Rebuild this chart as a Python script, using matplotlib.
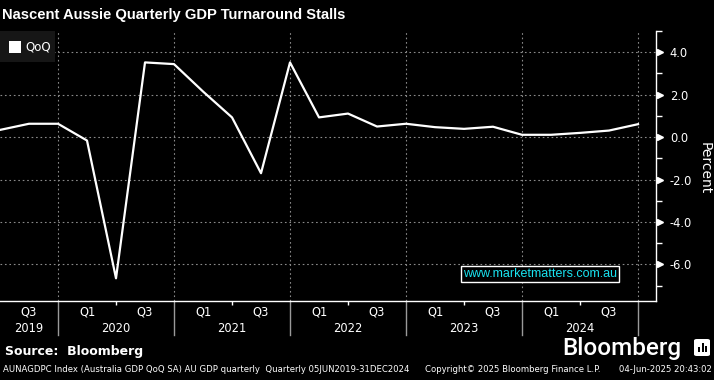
import matplotlib
matplotlib.use("Agg")
import matplotlib.pyplot as plt
import matplotlib.transforms as mtransforms
from matplotlib.patches import Rectangle, FancyBboxPatch
import numpy as np

# ---- data ----
quarters = ["2019Q2", "2019Q3", "2019Q4", "2020Q1", "2020Q2", "2020Q3", "2020Q4",
            "2021Q1", "2021Q2", "2021Q3", "2021Q4", "2022Q1", "2022Q2", "2022Q3",
            "2022Q4", "2023Q1", "2023Q2", "2023Q3", "2023Q4", "2024Q1", "2024Q2",
            "2024Q3", "2024Q4"]
qoq = [0.34, 0.63, 0.63, -0.16, -6.65, 3.52, 3.44,
       2.15, 0.93, -1.70, 3.52, 0.93, 1.11, 0.50,
       0.63, 0.47, 0.39, 0.49, 0.11, 0.11, 0.20,
       0.31, 0.61]
half_labels = ["Q3", "Q1", "Q3", "Q1", "Q3", "Q1", "Q3", "Q1", "Q3", "Q1", "Q3"]
year_labels = ["2019", "2020", "2021", "2022", "2023", "2024"]
y_ticks = [-6.0, -4.0, -2.0, 0.0, 2.0, 4.0]

BG = "black"
GRID = "#8a8a8a"

fig = plt.figure(figsize=(7.14, 3.80), dpi=100, facecolor=BG)
ax = fig.add_axes([0.0, 1 - 301 / 380, 656 / 714, 270 / 380])
ax.set_facecolor(BG)

x = np.arange(len(quarters))
ax.plot(x, qoq, color="white", lw=1.6, solid_joinstyle="round", zorder=3)

ax.set_xlim(0, 22.62)
ax.set_ylim(-7.72, 5.0)

# grid lines
for yv in y_ticks:
    ax.axhline(yv, color=GRID, lw=0.8, ls=(0, (1.5, 2.5)), zorder=1)
year_bounds = [q for q in range(len(quarters)) if quarters[q].endswith("Q4")]
for xb in year_bounds:
    ax.axvline(xb, color=GRID, lw=0.8, ls=(0, (1.5, 2.5)), zorder=1)

# spines
for s in ["top", "left"]:
    ax.spines[s].set_visible(False)
for s in ["right", "bottom"]:
    ax.spines[s].set_color("white")
    ax.spines[s].set_linewidth(1.0)

# x ticks: half-year small ticks
mid_year = [q for q in range(len(quarters)) if quarters[q].endswith("Q2")][1:]
ax.set_xticks(mid_year)
ax.set_xticklabels([])
ax.tick_params(axis="x", colors="white", length=3, width=1, direction="out")

xt = ax.get_xaxis_transform()
# separators below axis
for xb in year_bounds:
    ax.plot([xb, xb], [0, -34 / 270], transform=xt, color="#9a9a9a", lw=1.0, clip_on=False)
# half-year labels (centered in each half year)
half_pos = [1 + 2 * i for i in range(len(half_labels))]
for xp, lab in zip(half_pos, half_labels):
    ax.text(xp, -11 / 270, lab, transform=xt, ha="center", va="center",
            color="white", fontsize=8.3, family="DejaVu Sans")
year_pos = [1] + [4 + 4 * i for i in range(len(year_labels) - 1)]
for xp, lab in zip(year_pos, year_labels):
    ax.text(xp, -27 / 270, lab, transform=xt, ha="center", va="center",
            color="white", fontsize=8.3, family="DejaVu Sans")

# y axis on right
ax.yaxis.tick_right()
ax.set_yticks(y_ticks)
ax.set_yticklabels([f"{v:.1f}" for v in y_ticks])
ax.set_yticks(np.arange(-7, 6, 2), minor=True)
ax.tick_params(axis="y", which="major", length=0, pad=10, colors="white", labelsize=8.3)
ax.tick_params(axis="y", which="minor", length=4, width=1, colors="white", direction="out")
yt = ax.get_yaxis_transform()
tri = mtransforms.offset_copy(yt, fig=fig, x=4, y=0, units="dots")
ax.plot([1] * len(y_ticks), y_ticks, transform=tri, ls="none", marker=">",
        ms=5, color="white", clip_on=False)
fig.text(705 / 714, 1 - 168 / 380, "Percent", rotation=270, ha="center", va="center",
         color="white", fontsize=10, family="DejaVu Sans")

# legend box
ax.add_patch(Rectangle((0, 1 - 31 / 270), 55 / 656, 31 / 270, transform=ax.transAxes,
                       facecolor="#161616", edgecolor="none", zorder=4))
fig.add_artist(Rectangle((9 / 714, 1 - 53 / 380), 12 / 714, 12 / 380, transform=fig.transFigure,
                         facecolor="white", edgecolor="none", zorder=5))
fig.text(25 / 714, 1 - 47 / 380, "QoQ", ha="left", va="center", color="white",
         fontsize=8.5, family="DejaVu Sans", zorder=6)

# watermark
fig.text(540 / 714, 1 - 274 / 380, "www.marketmatters.com.au", ha="center", va="center",
         color="#19e3f0", fontsize=9, family="Liberation Sans",
         bbox=dict(boxstyle="square,pad=0.15", facecolor="black", edgecolor="white", lw=1.0),
         zorder=7)

# title
fig.text(2 / 714, 1 - 15 / 380, "Nascent Aussie Quarterly GDP Turnaround Stalls",
         ha="left", va="center", color="white", fontsize=10.6, fontweight="bold",
         family="Liberation Sans")

# footer
fig.text(5 / 714, 1 - 352 / 380, "Source:  Bloomberg", ha="left", va="center",
         color="white", fontsize=9, fontweight="bold", family="DejaVu Sans")
fig.text(562 / 714, 1 - 349 / 380, "Bloomberg", ha="left", va="center",
         color="white", fontsize=17.5, fontweight="medium", family="Roboto")
fig.add_artist(FancyBboxPatch((694 / 714, 1 - 356 / 380), 16 / 714, 17 / 380,
                              boxstyle="round,pad=0,rounding_size=0.004",
                              transform=fig.transFigure, facecolor="white",
                              edgecolor="none"))
for bx, bh in [(698, 5), (701.5, 9), (705, 6)]:
    fig.add_artist(Rectangle((bx / 714, 1 - 352 / 380), 2 / 714, bh / 380,
                             transform=fig.transFigure, facecolor="black", edgecolor="none"))
fig.text(3 / 714, 1 - 370 / 380,
         "AUNAGDPC Index (Australia GDP QoQ SA) AU GDP quarterly  Quarterly 05JUN2019-31DEC2024",
         ha="left", va="center", color="white", fontsize=6.15, family="DejaVu Sans")
fig.text(425 / 714, 1 - 370 / 380, "Copyright\u00a9 2025 Bloomberg Finance L.P.",
         ha="left", va="center", color="white", fontsize=6.15, family="DejaVu Sans")
fig.text(712 / 714, 1 - 370 / 380, "04-Jun-2025 20:43:02",
         ha="right", va="center", color="white", fontsize=6.15, family="DejaVu Sans")

fig.savefig("out.png", dpi=100, facecolor=BG)
